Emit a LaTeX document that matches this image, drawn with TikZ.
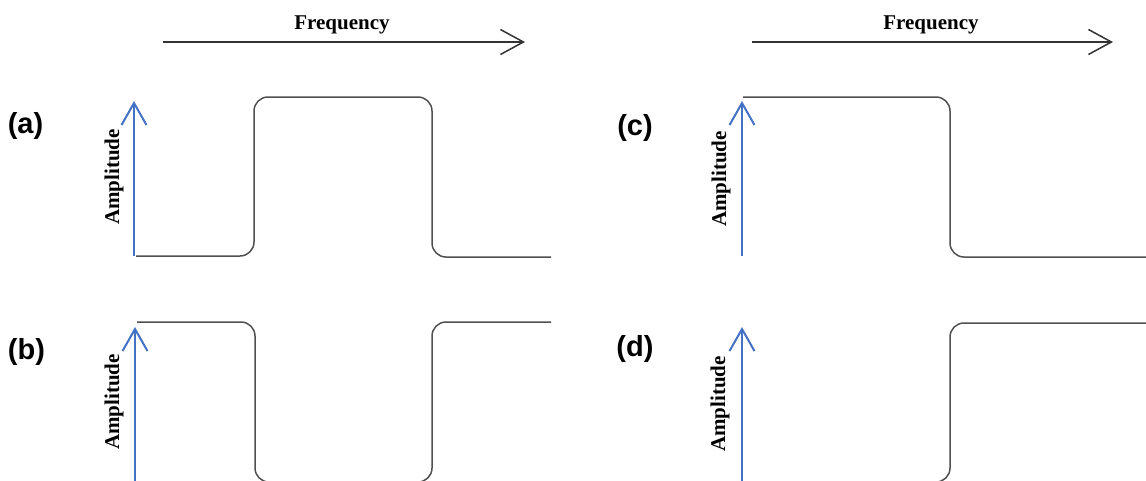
\documentclass[tikz,border=0pt]{standalone}
\usepackage{fontspec}
\setmainfont{Liberation Serif}
\newfontfamily\arialfont{Liberation Sans}
\usetikzlibrary{arrows.meta}
\definecolor{axisblue}{HTML}{4472C4}
\definecolor{curvegray}{HTML}{505050}
\definecolor{freqgray}{HTML}{333333}
\tikzset{
  panellabel/.style={inner sep=0pt, font=\arialfont\bfseries\fontsize{29}{32}\selectfont},
  axislabel/.style={inner sep=0pt, rotate=90, font=\bfseries\fontsize{21}{24}\selectfont},
  freqlabel/.style={inner sep=0pt, anchor=base, font=\bfseries\fontsize{21}{24}\selectfont},
  amparrow/.style={draw=axisblue, line width=2pt, -{Straight Barb[length=22pt,width=25pt,line width=2pt]}},
  freqarrow/.style={draw=freqgray, line width=1.5pt, -{Straight Barb[length=23pt,width=25pt,line width=1.5pt]}},
  response/.style={draw=curvegray, line width=1.5pt, rounded corners=14pt},
}
\begin{document}
\begin{tikzpicture}[x=1pt,y=-1pt]
\useasboundingbox (0,0) rectangle (1146,480);
\begin{scope}
\clip (0,0) rectangle (1146,480);

% Frequency arrows
\coordinate (f1s) at (163,42);
\coordinate (f1e) at (525,42);
\coordinate (f2s) at (752,42);
\coordinate (f2e) at (1113,42);
\draw[freqarrow] (f1s) -- (f1e);
\draw[freqarrow] (f2s) -- (f2e);
\node[freqlabel] (freqA) at (342,29) {Frequency};
\node[freqlabel] (freqB) at (931,29) {Frequency};

% Panel labels
\node[panellabel] (la) at (25.5,126) {(a)};
\node[panellabel] (lb) at (26.5,352) {(b)};
\node[panellabel] (lc) at (635,128) {(c)};
\node[panellabel] (ld) at (635,349) {(d)};

% Amplitude axes
\coordinate (a0) at (134,256);
\coordinate (a1) at (134,101);
\coordinate (b0) at (135,482);
\coordinate (b1) at (135,327);
\coordinate (c0) at (742,256);
\coordinate (c1) at (742,101);
\coordinate (d0) at (742,482);
\coordinate (d1) at (742,327);
\draw[amparrow] (a0) -- (a1);
\draw[amparrow] (b0) -- (b1);
\draw[amparrow] (c0) -- (c1);
\draw[amparrow] (d0) -- (d1);
\node[axislabel] (ampa) at (114,177) {Amplitude};
\node[axislabel] (ampb) at (114,402) {Amplitude};
\node[axislabel] (ampc) at (721,179) {Amplitude};
\node[axislabel] (ampd) at (720,404) {Amplitude};

% Responses
\draw[response] (136,256) -- (254,256) -- (254,97) -- (432,97) -- (432,257) -- (551,257);
\draw[response] (137,322) -- (255,322) -- (255,482) -- (432,482) -- (432,322) -- (551,322);
\draw[response] (743,97) -- (950,97) -- (950,257) -- (1152,257);
\draw[response] (900,482) -- (950,482) -- (950,323) -- (1152,323);
\end{scope}
\end{tikzpicture}
\end{document}
